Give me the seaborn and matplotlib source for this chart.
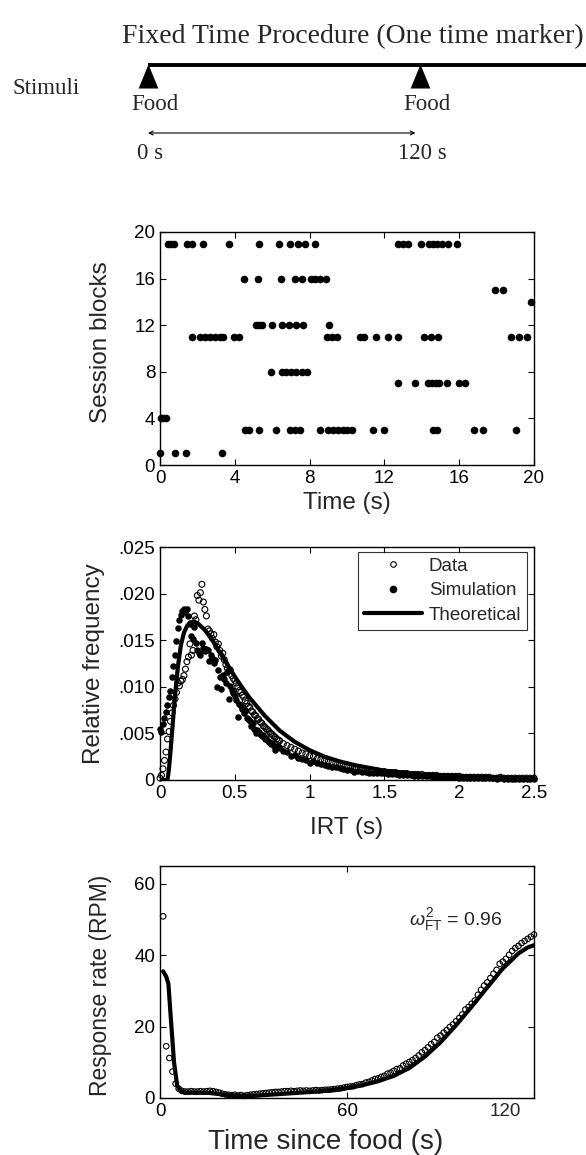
import numpy as np
import pandas as pd
import matplotlib
matplotlib.use("Agg")
import matplotlib.pyplot as plt
import matplotlib.transforms as mtransforms
import seaborn as sns
from matplotlib.lines import Line2D

# ---- schematic (top) ----
stim_times = [0, 120]
stim_labels = ["Food", "Food"]
interval_labels = ["0 s", "120 s"]

# ---- raster: response times (s) per session block ----
blk19 = [0.45, 0.6, 0.75, 1.46, 1.71, 2.32, 3.69, 5.29, 6.36, 6.95, 7.36, 7.75, 8.29,
         12.75, 13.01, 13.28, 13.96, 14.4, 14.62, 14.83, 15.07, 15.42, 15.87]
blk16 = [4.51, 5.26, 6.45, 7.22, 7.58, 8.06, 8.29, 8.56, 8.86]
blk15 = [17.91, 18.36]
blk14 = [19.84]
blk12 = [5.15, 5.3, 5.47, 5.97, 6.55, 6.9, 7.25, 7.66, 9.05]
blk11 = [1.69, 2.14, 2.41, 2.67, 2.94, 3.21, 3.39, 3.95, 4.25, 8.91, 9.18, 9.48,
         10.7, 10.9, 11.55, 12.21, 12.73, 14.1, 14.5, 14.88, 18.75, 19.2, 19.62]
blk8 = [5.92, 6.5, 6.75, 7.0, 7.25, 7.62, 7.84]
blk7 = [12.71, 13.64, 14.35, 14.55, 14.75, 14.9, 15.33, 16.0, 16.33]
blk4 = [0.05, 0.18, 0.32]
blk3 = [4.55, 4.78, 5.29, 6.22, 6.95, 7.22, 7.5, 8.56, 9.0, 9.27, 9.54, 9.8, 10.0,
        10.25, 11.4, 11.98, 14.62, 14.83, 16.79, 17.29, 19.05]
blk1 = [0.0, 0.82, 1.38, 3.31]

# ---- IRT distribution ----
irt_bins = np.concatenate([np.arange(80) * 0.01, np.linspace(0.8, 2.5, 69)])
irt_data = [0.0002, 0.0005, 0.0012, 0.0021, 0.0030, 0.0044, 0.0052, 0.0063, 0.0072, 0.0080,
            0.0087, 0.0094, 0.0104, 0.0101, 0.0106, 0.0108, 0.0112, 0.0119, 0.0127, 0.0132,
            0.0146, 0.0134, 0.0139, 0.0176, 0.0172, 0.0198, 0.0193, 0.0201, 0.0210, 0.0191,
            0.0183, 0.0176, 0.0162, 0.0160, 0.0157, 0.0152, 0.0156, 0.0148, 0.0143, 0.0146,
            0.0139, 0.0133, 0.0136, 0.0129, 0.0124, 0.0120, 0.0117, 0.0118, 0.0112, 0.0109,
            0.0107, 0.0104, 0.0100, 0.0096, 0.0094, 0.0091, 0.0089, 0.0085, 0.0082, 0.0079,
            0.0078, 0.0074, 0.0073, 0.0070, 0.0069, 0.0066, 0.0065, 0.0062, 0.0061, 0.0058,
            0.0057, 0.0055, 0.0054, 0.0052, 0.0050, 0.0049, 0.0047, 0.0046, 0.0044, 0.0043,
            0.0042, 0.0039, 0.0037, 0.0035, 0.0033, 0.0031, 0.0029, 0.0028, 0.0026, 0.0025,
            0.0023, 0.0022, 0.0021, 0.0020, 0.0019, 0.0018, 0.0017, 0.0016, 0.0015, 0.0014,
            0.0013, 0.0013, 0.0012, 0.0011, 0.0011, 0.0010, 0.0010, 0.0009, 0.0009, 0.0008,
            0.0008, 0.0008, 0.0007, 0.0007, 0.0007, 0.0006, 0.0006, 0.0006, 0.0006, 0.0005,
            0.0005, 0.0005, 0.0005, 0.0004, 0.0004, 0.0004, 0.0004, 0.0004, 0.0004, 0.0003,
            0.0003, 0.0003, 0.0003, 0.0003, 0.0003, 0.0003, 0.0003, 0.0002, 0.0002, 0.0003,
            0.0002, 0.0002, 0.0002, 0.0002, 0.0002, 0.0002, 0.0002, 0.0002, 0.0002]
irt_sim = [0.0055, 0.0052, 0.0060, 0.0066, 0.0073, 0.0080, 0.0089, 0.0096, 0.0110, 0.0122,
           0.0134, 0.0149, 0.0163, 0.0172, 0.0177, 0.0181, 0.0183, 0.0180, 0.0184, 0.0176,
           0.0167, 0.0154, 0.0151, 0.0164, 0.0147, 0.0140, 0.0136, 0.0134, 0.0147, 0.0142,
           0.0138, 0.0141, 0.0139, 0.0128, 0.0134, 0.0131, 0.0126, 0.0129, 0.0100, 0.0118,
           0.0111, 0.0098, 0.0113, 0.0108, 0.0104, 0.0116, 0.0087, 0.0101, 0.0097, 0.0093,
           0.0090, 0.0086, 0.0068, 0.0082, 0.0079, 0.0076, 0.0072, 0.0074, 0.0067, 0.0065,
           0.0063, 0.0058, 0.0061, 0.0055, 0.0050, 0.0054, 0.0051, 0.0049, 0.0047, 0.0048,
           0.0044, 0.0045, 0.0042, 0.0041, 0.0039, 0.0040, 0.0036, 0.0032, 0.0037, 0.0035,
           0.0034, 0.0031, 0.0030, 0.0026, 0.0027, 0.0024, 0.0023, 0.0021, 0.0018, 0.0020,
           0.0018, 0.0017, 0.0016, 0.0015, 0.0014, 0.0014, 0.0013, 0.0012, 0.0011, 0.0011,
           0.0009, 0.0010, 0.0009, 0.0009, 0.0008, 0.0008, 0.0007, 0.0007, 0.0007, 0.0006,
           0.0006, 0.0006, 0.0005, 0.0005, 0.0005, 0.0005, 0.0004, 0.0004, 0.0004, 0.0004,
           0.0004, 0.0003, 0.0003, 0.0003, 0.0003, 0.0003, 0.0003, 0.0003, 0.0002, 0.0002,
           0.0002, 0.0002, 0.0002, 0.0002, 0.0002, 0.0002, 0.0002, 0.0002, 0.0001, 0.0002,
           0.0001, 0.0001, 0.0001, 0.0001, 0.0001, 0.0001, 0.0001, 0.0001, 0.0001]
theo_x = [0.0, 0.05, 0.06, 0.07, 0.08, 0.09, 0.10, 0.12, 0.14, 0.16, 0.18, 0.20, 0.23, 0.26,
          0.30, 0.35, 0.40, 0.45, 0.50, 0.55, 0.60, 0.70, 0.80, 0.90, 1.0, 1.1, 1.2, 1.3,
          1.4, 1.5, 1.75, 2.0, 2.25, 2.5]
theo_y = [0.0, 0.0, 0.0012, 0.0030, 0.0050, 0.0070, 0.0090, 0.0122, 0.0145, 0.0158, 0.0165,
          0.0169, 0.0170, 0.0167, 0.0161, 0.0150, 0.0137, 0.0124, 0.0111, 0.0099, 0.0088,
          0.0069, 0.0053, 0.0041, 0.0032, 0.0025, 0.0020, 0.0016, 0.0013, 0.0010, 0.0006,
          0.0004, 0.0003, 0.0002]
irt_yticks = [0, 0.005, 0.010, 0.015, 0.020, 0.025]
irt_yticklabels = ["0", ".005", ".010", ".015", ".020", ".025"]
irt_xticks = [0, 0.5, 1, 1.5, 2, 2.5]
irt_xticklabels = ["0", "0.5", "1", "1.5", "2", "2.5"]

# ---- response rate vs time since food ----
rate_t = list(range(1, 121))
rate_obs = [50.9, 14.5, 11.2, 7.4, 4.0, 2.6, 2.0, 1.8, 1.8, 1.9,
            1.8, 1.8, 1.9, 1.8, 1.9, 2.0, 1.9, 1.7, 1.5, 1.2,
            1.0, 0.9, 0.8, 0.9, 0.7, 0.8, 0.6, 0.8, 0.9, 1.0,
            1.1, 1.2, 1.3, 1.4, 1.5, 1.6, 1.7, 1.7, 1.8, 1.9,
            1.9, 2.0, 1.9, 2.0, 2.1, 2.0, 2.1, 2.0, 2.1, 2.2,
            2.1, 2.2, 2.3, 2.3, 2.4, 2.5, 2.6, 2.7, 2.9, 3.1,
            3.2, 3.3, 3.6, 3.8, 3.9, 4.3, 4.5, 4.9, 5.3, 5.5,
            5.9, 6.2, 6.8, 7.1, 7.6, 8.1, 8.3, 9.1, 9.6, 10.1,
            10.6, 11.2, 11.9, 12.8, 13.4, 14.2, 15.1, 15.7, 16.9, 17.5,
            18.3, 19.0, 19.9, 20.6, 21.5, 22.4, 23.4, 24.8, 25.5, 26.4,
            27.3, 28.9, 30.3, 31.5, 32.4, 33.6, 34.8, 35.9, 37.6, 38.2,
            39.0, 40.1, 41.2, 42.0, 42.6, 43.4, 44.0, 44.6, 45.2, 45.8]
model_t = [1, 2, 2.7, 3.5, 4.5, 5.5, 6.5, 8, 12, 16, 20, 25, 30, 35, 40, 45, 50, 55, 60,
           65, 70, 75, 80, 85, 90, 95, 100, 105, 110, 115, 118, 120]
model_r = [35.5, 34.0, 32.0, 22.0, 10.0, 3.5, 2.0, 1.5, 1.5, 1.4, 1.0, 0.6, 0.6, 0.9, 1.2,
           1.5, 1.8, 2.2, 2.8, 3.6, 4.7, 6.2, 8.4, 11.6, 15.6, 20.4, 25.6, 31.0, 36.3, 40.5,
           42.2, 42.8]
rate_xticks = [0, 60, 120]
rate_xticklabels = ["0", "60", "120"]
fit_label = r"$\omega^{2}_{\mathrm{FT}}$ = 0.96"

# ------------------------------------------------------------------
sns.set_style("ticks")
plt.rcParams["font.family"] = ["Liberation Sans", "DejaVu Sans"]
plt.rcParams.update({
    "xtick.direction": "in", "ytick.direction": "in",
    "xtick.major.size": 4, "ytick.major.size": 4,
    "xtick.major.width": 0.8, "ytick.major.width": 0.8,
    "axes.linewidth": 1.0, "axes.edgecolor": "black",
    "xtick.color": "black", "ytick.color": "black",
    "xtick.labelsize": 13.5, "ytick.labelsize": 13.5,
    "axes.labelsize": 17.5,
    "mathtext.fontset": "custom",
    "mathtext.rm": "Liberation Sans",
    "mathtext.it": "Liberation Sans:italic",
})
serif = ["Liberation Serif", "DejaVu Serif"]

W, H = 586, 1155
fig = plt.figure(figsize=(W / 100, H / 100), dpi=100)


def box(left, top, right, bottom):
    return [left / W, 1 - bottom / H, (right - left) / W, (bottom - top) / H]


# ---- schematic ----
ax0 = fig.add_axes([0, 1 - 180 / H, 1, 180 / H])
px_per_s = (420 - 148) / 120
ax0.set_xlim(-148 / px_per_s, (W - 148) / px_per_s)
ax0.set_ylim(180, 0)
ax0.axis("off")
x_right = ax0.get_xlim()[1]
ax0.text((353 - 148) / px_per_s, 37, "Fixed Time Procedure (One time marker)",
         ha="center", va="center", fontsize=20, family=serif)
ax0.text((12 - 148) / px_per_s, 88, "Stimuli", ha="left", va="center", fontsize=16.5, family=serif)
ax0.plot([stim_times[0], x_right], [65, 65], color="black", lw=2.8, solid_capstyle="butt")
tri = [(0, 1), (-0.82, -1), (0.82, -1), (0, 1)]
sns.scatterplot(x=stim_times, y=[76] * len(stim_times), ax=ax0, marker=tri, s=300,
                color="black", edgecolor="black", linewidth=0, clip_on=False, legend=False)
for t, lab, ilab in zip(stim_times, stim_labels, interval_labels):
    ax0.text(t + 3, 104, lab, ha="center", va="center", fontsize=16.5, family=serif)
    ax0.text(t + 1, 153, ilab, ha="center", va="center", fontsize=16.5, family=serif)
ax0.annotate("", xy=(stim_times[0], 133), xytext=(stim_times[1] - 2, 133),
             arrowprops=dict(arrowstyle="<->", lw=0.8, color="black",
                             shrinkA=0, shrinkB=0, mutation_scale=7))

# ---- raster ----
blocks = {19: blk19, 16: blk16, 15: blk15, 14: blk14, 12: blk12, 11: blk11,
          8: blk8, 7: blk7, 4: blk4, 3: blk3, 1: blk1}
raster = pd.DataFrame([(t, b) for b, ts in blocks.items() for t in ts], columns=["time", "block"])
ax1 = fig.add_axes(box(160, 232, 534, 465))
sns.scatterplot(data=raster, x="time", y="block", ax=ax1, color="black", s=30,
                edgecolor="black", linewidth=0, clip_on=False, legend=False)
ax1.set_xlim(0, 20)
ax1.set_ylim(0, 20)
ax1.set_xticks(range(0, 21, 4))
ax1.set_yticks(range(0, 21, 4))
ax1.set_xlabel("Time (s)")
ax1.set_ylabel("Session blocks")
ax1.xaxis.set_label_coords(0.5, -0.115)
ax1.yaxis.set_label_coords(-0.128, 0.528)

# ---- IRT ----
ax2 = fig.add_axes(box(160, 547, 534, 780))
sns.scatterplot(x=irt_bins, y=irt_sim, ax=ax2, color="black", s=22, edgecolor="black",
                linewidth=0, clip_on=False, legend=False)
sns.scatterplot(x=irt_bins, y=irt_data, ax=ax2, marker="o", facecolor="none",
                edgecolor="black", s=18, linewidth=0.8, clip_on=False, legend=False)
sns.lineplot(x=theo_x, y=theo_y, ax=ax2, color="black", lw=3, sort=False)
ax2.set_xlim(0, 2.5)
ax2.set_ylim(0, 0.025)
ax2.set_xticks(irt_xticks)
ax2.set_xticklabels(irt_xticklabels)
ax2.set_yticks(irt_yticks)
ax2.set_yticklabels(irt_yticklabels)
ax2.set_xlabel("IRT (s)")
ax2.set_ylabel("Relative frequency")
ax2.xaxis.set_label_coords(0.5, -0.158)
ax2.yaxis.set_label_coords(-0.148, 0.5)
handles = [Line2D([], [], ls="none", marker="o", mfc="none", mec="black", ms=4, mew=0.8),
           Line2D([], [], ls="none", marker="o", color="black", ms=4.5),
           Line2D([], [], color="black", lw=3)]
leg = ax2.legend(handles, ["Data", "Simulation", "Theoretical"], loc="upper right",
                 bbox_to_anchor=(0.981, 0.979), fontsize=13.5, frameon=True, fancybox=False,
                 edgecolor="black", handlelength=3.1, handletextpad=0.35, labelspacing=0.4,
                 borderpad=0.3, borderaxespad=0)
leg.get_frame().set_linewidth(0.8)

# ---- response rate ----
ax3 = fig.add_axes(box(160, 866, 534, 1098))
sns.scatterplot(x=rate_t, y=rate_obs, ax=ax3, marker="o", facecolor="none",
                edgecolor="black", s=16, linewidth=0.8, clip_on=False, legend=False)
sns.lineplot(x=model_t, y=model_r, ax=ax3, color="black", lw=3, sort=False)
ax3.set_xlim(0, 120)
ax3.set_ylim(0, 65)
ax3.set_xticks(rate_xticks)
# the last tick label sits a little left of its tick in the source figure
ax3.set_xticklabels(rate_xticklabels[:-1] + [""])
shifted = mtransforms.offset_copy(ax3.get_xaxis_transform(), fig=fig, x=-21, y=-3.5,
                                  units="points")
ax3.text(rate_xticks[-1], 0, rate_xticklabels[-1], transform=shifted, ha="center", va="top",
         fontsize=13.5)
ax3.set_yticks([0, 20, 40, 60])
ax3.set_xlabel("Time since food (s)", fontsize=20)
ax3.set_ylabel("Response rate (RPM)", fontsize=16.5)
ax3.xaxis.set_label_coords(0.444, -0.135)
ax3.yaxis.set_label_coords(-0.128, 0.487)
ax3.text(80, 50, fit_label, fontsize=14, ha="left", va="center")

for ax in (ax1, ax2, ax3):
    ax.tick_params(top=True, right=True, direction="in", length=4)
    for s in ax.spines.values():
        s.set_visible(True)
        s.set_color("black")

fig.savefig("out.png", dpi=100)
